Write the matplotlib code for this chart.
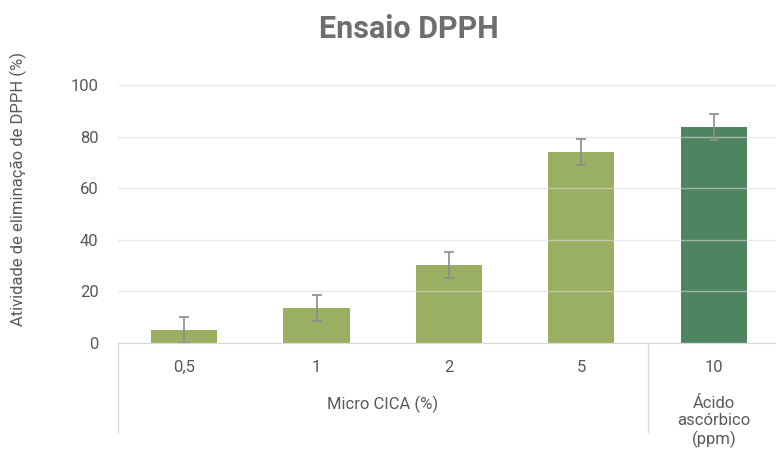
import matplotlib
matplotlib.use('Agg')
from matplotlib import pyplot as plt
import numpy as np

# DATA
categories = ['0,5', '1', '2', '5', '10']
values = [5.0, 13.5, 30.3, 74.0, 83.8]
errors = [5.0, 5.0, 5.0, 5.0, 5.0]
group_labels = ['Micro CICA (%)', 'Ácido\nascórbico\n(ppm)']
group_spans = [(0, 3), (4, 4)]
yticks = [0, 20, 40, 60, 80, 100]

# STYLE
LIGHT = '#9BAF63'
DARK = '#4E8560'
TEXT = '#595959'
GRID = '#D9D9D9'
plt.rcParams['font.family'] = ['Roboto', 'DejaVu Sans']

fig = plt.figure(figsize=(7.76, 4.5), dpi=100)
ax = fig.add_axes([118 / 776, 1 - 343 / 450, 1 - 118 / 776, (343 - 85) / 450])

x = np.arange(len(categories))
colors = [LIGHT] * 4 + [DARK]
ax.bar(x, values, width=0.5, color=colors, zorder=2)
ax.errorbar(x, values, yerr=errors, fmt='none', ecolor='#8C8C8C',
            elinewidth=1.2, capsize=3.5, capthick=1.2, zorder=3)

ax.set_xlim(-0.5, 4.47)
ax.set_ylim(0, 100)
ax.set_yticks(yticks)
ax.yaxis.grid(True, color=GRID, linewidth=1, alpha=0.6, zorder=2.5)
ax.set_axisbelow(False)
for s in ['left', 'right', 'top']:
    ax.spines[s].set_visible(False)
ax.spines['bottom'].set_color(GRID)
ax.spines['bottom'].set_zorder(4)
ax.tick_params(length=0, labelsize=12, colors=TEXT)
ax.tick_params(axis='y', pad=14)
ax.tick_params(axis='x', pad=12)
ax.set_xticks(x)
ax.set_xticklabels(categories)

# group separators and labels
trans = ax.get_xaxis_transform()
low = -(432 - 343) / 258
for xs in [-0.5, 3.5]:
    ax.plot([xs, xs], [0, low], color=GRID, linewidth=1,
            transform=trans, clip_on=False)
for lab, (a, b) in zip(group_labels, group_spans):
    ax.text((a + b) / 2, -(396 - 343) / 258, lab, transform=trans,
            ha='center', va='top', fontsize=12, color=TEXT,
            linespacing=1.2)

ax.set_ylabel('Atividade de eliminação de DPPH (%)', fontsize=12,
              color=TEXT, va='center')
ax.yaxis.set_label_coords(-0.152, 0.595)
fig.text(0.527, 0.935, 'Ensaio DPPH', ha='center', va='center',
         fontsize=22, fontweight='bold', color='#6E6E6E')

fig.savefig('out.png', dpi=100)
